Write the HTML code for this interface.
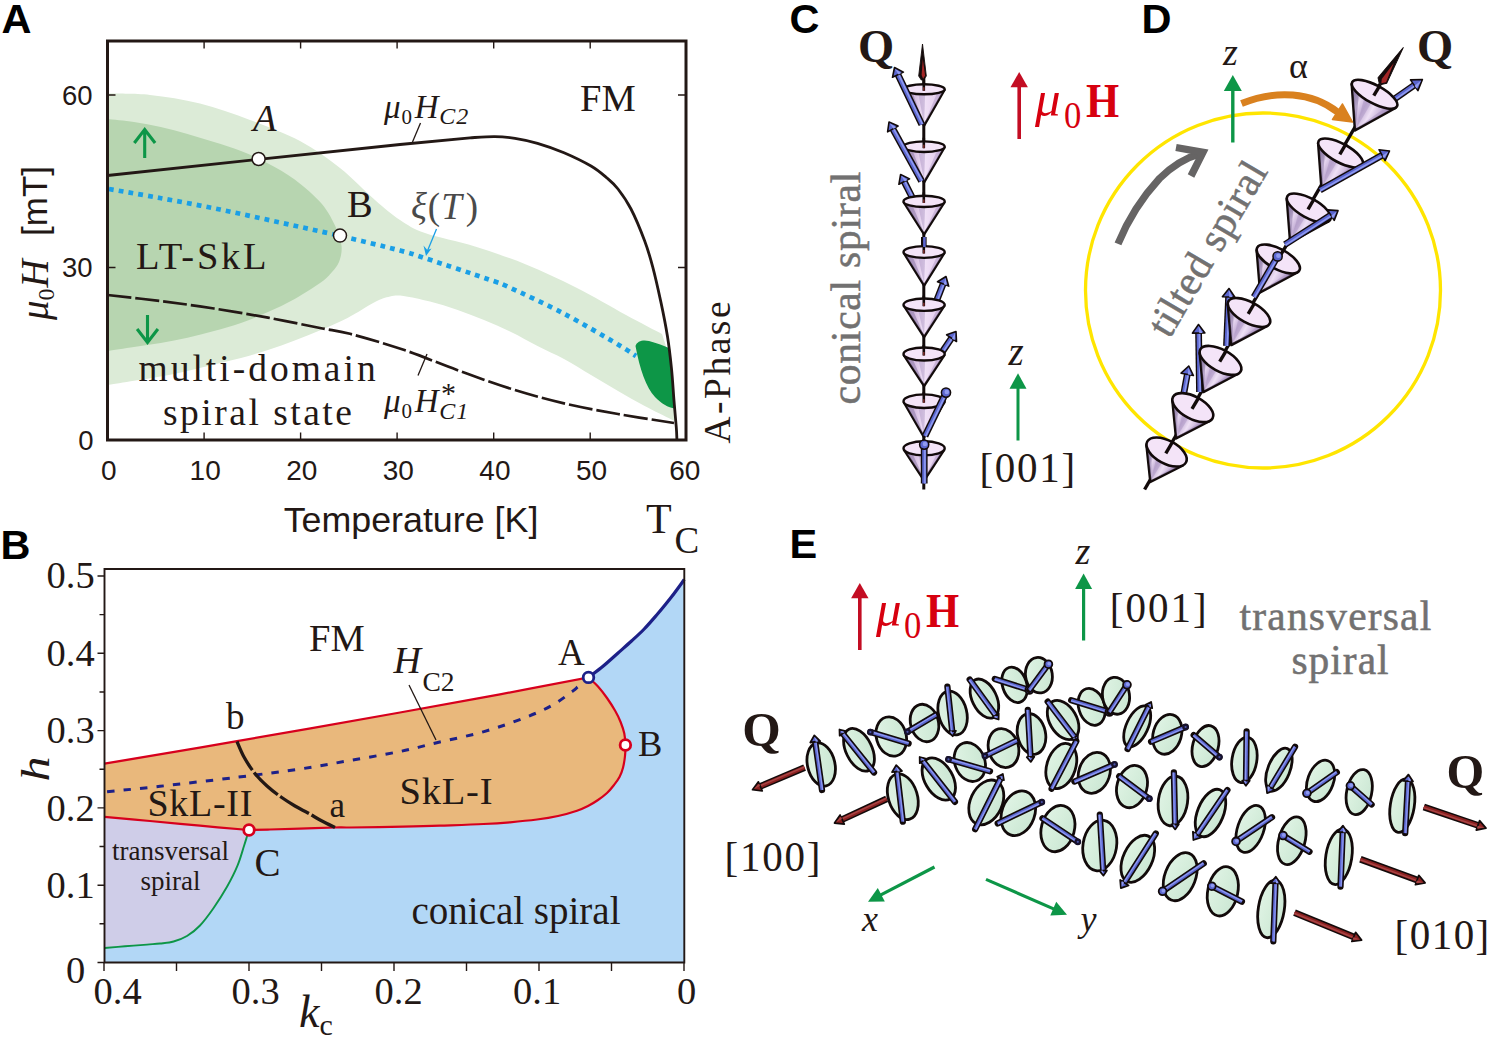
<!DOCTYPE html>
<html lang="en">
<head>
<meta charset="utf-8">
<title>Figure</title>
<style>
html,body{margin:0;padding:0;background:#fff;}
body{width:1498px;height:1045px;overflow:hidden;}
svg{display:block;}
.se{font-family:"Liberation Serif","DejaVu Serif",serif;}
.sa{font-family:"Liberation Sans","DejaVu Sans",sans-serif;}
.it{font-style:italic;}
.b{font-weight:bold;}
.k{fill:#231815;}
</style>
</head>
<body>
<svg width="1498" height="1045" viewBox="0 0 1498 1045">
<rect x="0" y="0" width="1498" height="1045" fill="#ffffff"/>
<!-- panelA -->
<path d="M107.5,93.6C114.6,93.8 134.6,93.3 150,95C165.4,96.7 183.3,99.4 200,103.6C216.7,107.8 233.3,113.8 250,120C266.7,126.2 285,133 300,141C315,149 327.5,158.2 340,168C352.5,177.8 365,191.3 375,200C385,208.7 391.7,214.5 400,220C408.3,225.5 412.5,228.6 425,233C437.5,237.4 458.2,241.2 475,246.5C491.8,251.8 509.2,257.7 526,264.5C542.8,271.3 559.3,279.1 576,287.5C592.7,295.9 611.7,307.2 626,315C640.3,322.8 656,330.8 662,334C662.9,337 665.9,345.2 667.5,352C669.1,358.8 670.4,367 671.5,375C672.6,383 673.3,392.2 674,400C674.7,407.8 675.2,418.3 675.5,422C674.8,421.6 676.6,422.2 671.5,419.5C666.4,416.8 653.6,410.8 644.7,406C635.8,401.2 627,396.2 618,391C609,385.8 600,380.3 591,375C582,369.7 572.9,363.8 564,359C555.1,354.2 546.3,350.5 537.5,346C528.7,341.5 519.9,336.3 511,332C502.1,327.7 493,323.7 484,320C475,316.3 466,312.8 457,309.7C448,306.6 438.9,303.9 430,301.6C421.1,299.3 410.3,296.9 403.6,296C396.9,295.1 394.8,295.5 390,296.5C385.2,297.5 382,298.5 375,302C368,305.5 356.9,313.1 348,317.7C339.1,322.3 330.4,325.9 321.5,329.7C312.6,333.5 303.6,337.1 294.7,340.5C285.8,343.9 276.9,347.1 268,350C259.1,352.9 250,355.6 241,358C232,360.4 222.9,362.4 214,364.6C205.1,366.8 196.4,369 187.5,371C178.6,373 169.6,375 160.7,376.6C151.8,378.2 142.9,379.3 134,380.7C125.1,382.1 111.9,384.3 107.5,385Z" fill="#dcebd7"/>
<path d="M107.5,119C111.9,119.5 125.1,120.7 134,122C142.9,123.3 151.8,125 160.7,127C169.6,129 178.6,131.5 187.5,134C196.4,136.5 205.1,139.2 214,142C222.9,144.8 232,147.4 241,151C250,154.6 259.1,158.7 268,163.4C276.9,168.2 285.8,172.8 294.7,179.5C303.6,186.2 314.6,195.6 321.5,203.6C328.4,211.6 332.6,220.5 336,227.7C339.4,234.8 341.1,240.8 341.6,246.5C342.1,252.2 340.6,257.8 339,262C337.4,266.2 334.9,268.7 332,272C329.1,275.3 327.7,277.5 321.5,282C315.3,286.5 303.6,294 294.7,299C285.8,304 276.9,308 268,312C259.1,316 250,319.8 241,323C232,326.2 222.9,328.5 214,331C205.1,333.5 196.4,335.8 187.5,337.8C178.6,339.8 169.6,341.5 160.7,343C151.8,344.5 142.9,345.7 134,347C125.1,348.3 111.9,350.3 107.5,351Z" fill="#b7d5b0"/>
<path d="M635.5,346 C637,341 643,339.5 649,341 C657,343 664,346 670,348.5 C672,368 673.5,388 675,408.5 C668,408 661,403 655,397 C646,387 640,370 635.5,346Z" fill="#0d9647"/>
<path d="M109,189C117.5,190.5 141.5,194.6 160,198C178.5,201.4 200,205.4 220,209.5C240,213.6 260.1,218.1 280,222.5C299.9,226.9 319.7,231.1 339.7,235.8C359.7,240.5 385.6,246.7 400,250.5C414.4,254.3 411.2,253.7 426,258.5C440.8,263.3 474.9,274.6 489,279.5C503.1,284.4 498.2,282.3 510.7,288C523.2,293.7 546.1,304.3 564,313.7C581.9,323.1 606,337.4 618,344.5C630,351.6 633,354.1 636,356" fill="none" stroke="#1a9fe6" stroke-width="4.7" stroke-dasharray="4.8 5.1"/>
<path d="M107.5,175.5 L258.5,159.4 L400,144.5 L470,137.8 C474.1,137.6 487.2,136.5 494.7,136.6C502.2,136.7 507.9,137.2 515,138.3C522.1,139.4 529.3,140.9 537.5,143.3C545.7,145.7 555.1,148.9 564,152.7C572.9,156.5 583.8,161.8 591,166C598.2,170.2 602.5,174.2 607,178C611.5,181.8 614,183.8 618,189C622,194.2 626.5,200.3 631,209C635.5,217.7 641.1,231.4 644.7,241C648.3,250.6 650,256.7 652.7,266.8C655.4,276.9 658.3,290 660.8,301.6C663.3,313.2 665.7,325.3 667.5,336.5C669.3,347.7 670.4,357.9 671.5,368.6C672.6,379.3 673.2,390.9 674,400.7C674.8,410.5 675.8,421 676.3,427.5C676.8,434 676.8,437.6 676.9,439.6" fill="none" stroke="#231815" stroke-width="2.8" stroke-linejoin="round"/>
<path d="M107.5,295C116.2,296 142.2,298.8 160,301C177.8,303.2 196,305.7 214,308.5C232,311.3 250.3,314.4 268,317.7C285.7,320.9 306.3,325.3 320,328C333.7,330.7 336.1,330.2 350,333.8C363.9,337.4 385.8,343.8 403.6,349.8C421.4,355.8 439.1,363.5 457,370C474.9,376.5 492.9,383.1 510.7,388.7C528.5,394.3 546.1,399.2 564,403.4C581.9,407.6 599.7,410.7 618,414C636.3,417.3 664.7,421.5 674,423" fill="none" stroke="#231815" stroke-width="2.7" stroke-dasharray="24 4"/>
<path d="M420.5,123 L412.5,142" stroke="#231815" stroke-width="1.3" fill="none"/>
<path d="M427,354 L418,375.5" stroke="#231815" stroke-width="1.3" fill="none"/>
<path d="M436.5,229 L427,252" stroke="#1a9fe6" stroke-width="1.3" fill="none"/>
<path d="M423.5,245.5 L426,256 L431.5,248.5 L427.3,250Z" fill="#1a9fe6"/>
<rect x="107.5" y="41" width="578.5" height="399" fill="none" stroke="#231815" stroke-width="3"/>
<path d="M204.1,41 v7.5 M204.1,440 v-7.5 M300.6,41 v7.5 M300.6,440 v-7.5 M397.1,41 v7.5 M397.1,440 v-7.5 M493.7,41 v7.5 M493.7,440 v-7.5 M590.2,41 v7.5 M590.2,440 v-7.5 M107.5,95 h8 M686,95 h-8 M107.5,267.5 h8 M686,267.5 h-8" stroke="#231815" stroke-width="1.4" fill="none"/>
<circle cx="258.6" cy="159" r="6.5" fill="#fff" stroke="#231815" stroke-width="1.5"/>
<circle cx="340" cy="235.6" r="6.5" fill="#fff" stroke="#231815" stroke-width="1.5"/>
<path d="M144.7,158 V131 M134.3,143 L144.7,129.5 L155.1,143" fill="none" stroke="#0d9647" stroke-width="3.1" stroke-linejoin="miter"/>
<path d="M147.5,315 V341 M137.1,329 L147.5,342.5 L157.9,329" fill="none" stroke="#0d9647" stroke-width="3.1" stroke-linejoin="miter"/>
<text x="1.5" y="32.8" class="sa b" font-size="41.5" fill="#000">A</text>
<text x="92.5" y="104.6" class="sa k" font-size="27.5" text-anchor="end">60</text>
<text x="92.5" y="277.3" class="sa k" font-size="27.5" text-anchor="end">30</text>
<text x="93.5" y="450" class="sa k" font-size="27.5" text-anchor="end">0</text>
<text x="108.7" y="480" class="sa k" font-size="28" text-anchor="middle">0</text>
<text x="205.2" y="480" class="sa k" font-size="28" text-anchor="middle">10</text>
<text x="301.8" y="480" class="sa k" font-size="28" text-anchor="middle">20</text>
<text x="398.3" y="480" class="sa k" font-size="28" text-anchor="middle">30</text>
<text x="494.9" y="480" class="sa k" font-size="28" text-anchor="middle">40</text>
<text x="591.5" y="480" class="sa k" font-size="28" text-anchor="middle">50</text>
<text x="684.8" y="480" class="sa k" font-size="28" text-anchor="middle">60</text>
<text x="411" y="531.7" class="sa k" font-size="35.8" text-anchor="middle">Temperature [K]</text>
<text x="646" y="533.3" class="se k" font-size="42">T</text>
<text x="674.5" y="553" class="se k" font-size="37">C</text>
<g transform="translate(47.5,320) rotate(-90)"><text x="0" y="0" class="k"><tspan class="se it" font-size="39">μ</tspan><tspan class="se" font-size="24" dy="6.5">0</tspan><tspan class="se it" font-size="39" dy="-6.5" dx="1">H</tspan></text><text x="84" y="-1" class="sa k" font-size="35">[mT]</text></g>
<g transform="translate(729.5,443.5) rotate(-90)"><text x="0" y="0" class="se k" font-size="37.5" letter-spacing="2.5">A-Phase</text></g>
<text x="580" y="110.5" class="se k" font-size="38.5">FM</text>
<text x="136" y="269.3" class="se k" font-size="38.5" letter-spacing="2.7">LT-SkL</text>
<text x="138.5" y="380.7" class="se k" font-size="37.5" letter-spacing="3.0">multi-domain</text>
<text x="163" y="425" class="se k" font-size="37.5" letter-spacing="2.5">spiral state</text>
<text x="253" y="131.3" class="se it k" font-size="38.5">A</text>
<text x="347" y="216.5" class="se k" font-size="38.5">B</text>
<text x="384" y="118" class="se it k" letter-spacing="0.8"><tspan font-size="33">μ</tspan><tspan font-size="21" dy="6" style="font-style:normal">0</tspan><tspan font-size="33" dy="-6" dx="2">H</tspan><tspan font-size="24" dy="6">C2</tspan></text>
<text x="384" y="412" class="se it k" letter-spacing="0.8"><tspan font-size="33">μ</tspan><tspan font-size="21" dy="6" style="font-style:normal">0</tspan><tspan font-size="33" dy="-6" dx="2">H</tspan><tspan font-size="24" dy="6.5">C1</tspan></text>
<text x="441" y="403" class="se k" font-size="30">*</text>
<text x="411" y="219" class="se it" font-size="37" fill="#4a4a4a" letter-spacing="1">ξ<tspan style="font-style:normal">(</tspan>T<tspan style="font-style:normal" dx="3">)</tspan></text>
<!-- panelB -->
<path d="M104.5,962.5 L104.5,800 L560,800 L560,700  L588.5,677.4 C590.9,675.5 598.2,670.3 603,666.3C607.8,662.3 612.8,657.7 617.5,653.5C622.2,649.3 627,645.1 631.5,641C636,636.9 639.9,633.5 644.2,629C648.5,624.5 653,619.2 657.5,614C662,608.8 666.5,603.2 671,597.5C675.5,591.8 682.1,582.5 684.3,579.5 L684.3,962.5Z" fill="#b2d7f6"/>
<path d="M104.5,816.8 C112.1,817.5 134.1,819.5 150,821C165.9,822.5 183.5,824.2 200,825.7C216.5,827.2 240.8,829.3 249,830C248.6,831.3 247.3,835.3 246.5,838C245.7,840.7 245.5,841.4 244,846C242.5,850.6 240.4,858.6 237.6,865.4C234.8,872.2 231,879.7 227,886.8C223,893.9 218.1,901.5 213.6,908C209.1,914.5 204.4,920.8 200,925.5C195.6,930.2 191.4,933.3 187,936C182.6,938.7 178.1,940.2 173.6,941.5C169.1,942.8 164.4,943 160,943.5C155.6,944 152.8,944.1 147,944.6C141.2,945.1 132.1,945.7 125,946.3C117.9,946.9 107.9,947.7 104.5,948Z" fill="#cfcde8"/>
<path d="M104.5,763.7C126.6,760 187.8,749.7 237,741.2C286.2,732.7 356.2,720.3 400,712.5C443.8,704.7 468.6,700.1 500,694.3C531.4,688.4 573.8,680.2 588.5,677.4C590.1,678.9 594.9,683.1 598,686.5C601.1,689.9 604.2,694 607,698C609.8,702 612.7,706.5 615,710.5C617.3,714.5 619.1,718.2 620.6,722C622.1,725.8 623.5,729.7 624.3,733.5C625.1,737.3 625.3,741.2 625.4,745C625.5,748.8 625.4,752.2 625,756C624.6,759.8 623.9,764.2 623,767.7C622.1,771.2 621,774.1 619.5,777C618,779.9 616.1,782.3 614,785C611.9,787.7 609.7,790.5 607,793C604.3,795.5 601.2,797.8 598,800C594.8,802.2 591.5,804.2 588,806C584.5,807.8 582,809 577,810.7C572,812.4 564.7,814.5 558,816C551.3,817.5 545,818.5 537,819.5C529,820.5 518.9,821.5 510,822.3C501.1,823 495.2,823.4 483.5,824C471.8,824.6 453.4,825.2 440,825.7C426.6,826.2 418,826.4 403,826.7C388,827 361.3,827.4 350,827.5C338.7,827.6 343.3,827.3 335,827.5C326.7,827.7 310.8,828.3 300,828.6C289.2,828.9 278.5,829.3 270,829.5C261.5,829.7 252.5,829.9 249,830C240.8,829.3 216.5,827.2 200,825.7C183.5,824.2 165.9,822.5 150,821C134.1,819.5 112.1,817.5 104.5,816.8Z" fill="#e9b87c"/>
<path d="M249,830C248.6,831.3 247.3,835.3 246.5,838C245.7,840.7 245.5,841.4 244,846C242.5,850.6 240.4,858.6 237.6,865.4C234.8,872.2 231,879.7 227,886.8C223,893.9 218.1,901.5 213.6,908C209.1,914.5 204.4,920.8 200,925.5C195.6,930.2 191.4,933.3 187,936C182.6,938.7 178.1,940.2 173.6,941.5C169.1,942.8 164.4,943 160,943.5C155.6,944 152.8,944.1 147,944.6C141.2,945.1 132.1,945.7 125,946.3C117.9,946.9 107.9,947.7 104.5,948" fill="none" stroke="#0d9647" stroke-width="1.9"/>
<path d="M104.5,763.7C126.6,760 187.8,749.7 237,741.2C286.2,732.7 356.2,720.3 400,712.5C443.8,704.7 468.6,700.1 500,694.3C531.4,688.4 573.8,680.2 588.5,677.4C590.1,678.9 594.9,683.1 598,686.5C601.1,689.9 604.2,694 607,698C609.8,702 612.7,706.5 615,710.5C617.3,714.5 619.1,718.2 620.6,722C622.1,725.8 623.5,729.7 624.3,733.5C625.1,737.3 625.3,741.2 625.4,745C625.5,748.8 625.4,752.2 625,756C624.6,759.8 623.9,764.2 623,767.7C622.1,771.2 621,774.1 619.5,777C618,779.9 616.1,782.3 614,785C611.9,787.7 609.7,790.5 607,793C604.3,795.5 601.2,797.8 598,800C594.8,802.2 591.5,804.2 588,806C584.5,807.8 582,809 577,810.7C572,812.4 564.7,814.5 558,816C551.3,817.5 545,818.5 537,819.5C529,820.5 518.9,821.5 510,822.3C501.1,823 495.2,823.4 483.5,824C471.8,824.6 453.4,825.2 440,825.7C426.6,826.2 418,826.4 403,826.7C388,827 361.3,827.4 350,827.5C338.7,827.6 343.3,827.3 335,827.5C326.7,827.7 310.8,828.3 300,828.6C289.2,828.9 278.5,829.3 270,829.5C261.5,829.7 252.5,829.9 249,830C240.8,829.3 216.5,827.2 200,825.7C183.5,824.2 165.9,822.5 150,821C134.1,819.5 112.1,817.5 104.5,816.8" fill="none" stroke="#d7001d" stroke-width="2.2"/>
<path d="M588.5,677.4C590.9,675.5 598.2,670.3 603,666.3C607.8,662.3 612.8,657.7 617.5,653.5C622.2,649.3 627,645.1 631.5,641C636,636.9 639.9,633.5 644.2,629C648.5,624.5 653,619.2 657.5,614C662,608.8 666.5,603.2 671,597.5C675.5,591.8 682.1,582.5 684.3,579.5" fill="none" stroke="#1d2088" stroke-width="3.2"/>
<path d="M577.5,687C576.6,687.7 576.8,688.2 572.4,691.4C568,694.6 559.1,701.6 551,706C542.9,710.4 535.2,713.7 524,718C512.8,722.3 498.7,727.4 484,731.6C469.3,735.8 449.7,739.7 435.7,743C421.7,746.3 414.3,748.6 400,751.5C385.7,754.4 366.7,757.6 350,760.5C333.3,763.4 318.8,766.2 300,769C281.2,771.8 260.3,774.4 237,777.3C213.7,780.2 182.1,783.8 160,786.3C137.9,788.8 113.8,791 104.5,792" fill="none" stroke="#1d2088" stroke-width="3" stroke-dasharray="7.4 9.12"/>
<path d="M237,741.5C238.2,744.1 241.1,751.8 244,757C246.9,762.2 250.7,768.2 254.5,773C258.3,777.8 262.6,782 267,786C271.4,790 276.3,793.7 281,797C285.7,800.3 290.5,803.3 295,806C299.5,808.7 303.5,810.5 308,813C312.5,815.5 317.5,818.6 322,821C326.5,823.4 332.8,826.4 335,827.5" fill="none" stroke="#231815" stroke-width="3.3" stroke-dasharray="32.5 3 32.5 3 33.5 3 40"/>
<path d="M409,685 L436,740" stroke="#231815" stroke-width="1.3" fill="none"/>
<path d="M104.5,569 H684.3 V962.5 H104.5Z" fill="none" stroke="#231815" stroke-width="1.9"/>
<path d="M104.5,576 h-7 M104.5,614.6 h-5 M104.5,653.3 h-7 M104.5,692 h-5 M104.5,730.6 h-7 M104.5,769.2 h-5 M104.5,807.9 h-7 M104.5,846.5 h-5 M104.5,885.2 h-7 M104.5,923.8 h-5 M104.5,962.5 h-7 M104,962.5 v8.5 M176.5,962.5 v8.5 M249,962.5 v8.5 M321.5,962.5 v8.5 M394,962.5 v8.5 M466.5,962.5 v8.5 M539,962.5 v8.5 M611.5,962.5 v8.5 M684,962.5 v8.5" stroke="#231815" stroke-width="1.4" fill="none"/>
<circle cx="588.5" cy="677.4" r="5.3" fill="#fff" stroke="#1d2088" stroke-width="2.8"/>
<circle cx="625.4" cy="745" r="5.3" fill="#fff" stroke="#d7001d" stroke-width="2.8"/>
<circle cx="249" cy="830" r="5.3" fill="#fff" stroke="#d7001d" stroke-width="2.8"/>
<text x="0.5" y="559" class="sa b" font-size="41.5" fill="#000">B</text>
<text x="46.5" y="588" class="se k" font-size="38.5">0.5</text>
<text x="46.5" y="665.5" class="se k" font-size="38.5">0.4</text>
<text x="46.5" y="743" class="se k" font-size="38.5">0.3</text>
<text x="46.5" y="820.5" class="se k" font-size="38.5">0.2</text>
<text x="46.5" y="898" class="se k" font-size="38.5">0.1</text>
<text x="66" y="983" class="se k" font-size="38.5">0</text>
<text x="93.5" y="1003.5" class="se k" font-size="38.5">0.4</text>
<text x="231.5" y="1003.5" class="se k" font-size="38.5">0.3</text>
<text x="374.5" y="1003.5" class="se k" font-size="38.5">0.2</text>
<text x="513" y="1003.5" class="se k" font-size="38.5">0.1</text>
<text x="677" y="1003.5" class="se k" font-size="38.5">0</text>
<g transform="translate(49,781.5) rotate(-90) scale(1.25,1)"><text x="0" y="0" class="se it k" font-size="40">h</text></g>
<text x="299" y="1027" class="se it k" font-size="46">k<tspan style="font-style:normal" font-size="30" dy="8">c</tspan></text>
<text x="309" y="651" class="se k" font-size="38.5">FM</text>
<text x="393.5" y="672.8" class="se it k" font-size="38">H</text>
<text x="422.5" y="690.5" class="se k" font-size="27.5">C2</text>
<text x="558" y="664.6" class="se k" font-size="37">A</text>
<text x="638" y="756" class="se k" font-size="36.5">B</text>
<text x="226" y="729" class="se k" font-size="37">b</text>
<text x="329.5" y="817" class="se k" font-size="35">a</text>
<text x="147.5" y="816" class="se k" font-size="38" letter-spacing="0.7">SkL-II</text>
<text x="399.5" y="804" class="se k" font-size="38.5" letter-spacing="0.8">SkL-I</text>
<text x="254.5" y="876" class="se k" font-size="39">C</text>
<text x="170.5" y="860" class="se k" font-size="27" text-anchor="middle">transversal</text>
<text x="170.5" y="889.5" class="se k" font-size="27" text-anchor="middle">spiral</text>
<text x="411.5" y="924" class="se k" font-size="39">conical spiral</text>
<!-- panelC -->
<defs>
<linearGradient id="cg" x1="0" y1="0" x2="1" y2="0"><stop offset="0" stop-color="#b79fcc"/><stop offset="0.25" stop-color="#d3badf"/><stop offset="0.5" stop-color="#f1e2f7"/><stop offset="0.8" stop-color="#e6d0ef"/><stop offset="1" stop-color="#cdb3dd"/></linearGradient>
<linearGradient id="dg" x1="0" y1="0" x2="1" y2="0"><stop offset="0" stop-color="#7f7094"/><stop offset="0.16" stop-color="#a291b8"/><stop offset="0.3" stop-color="#e6d6f0"/><stop offset="0.44" stop-color="#c4afd6"/><stop offset="0.6" stop-color="#eee0f5"/><stop offset="0.8" stop-color="#c3add5"/><stop offset="1" stop-color="#8f7ea6"/></linearGradient>
<linearGradient id="ng" x1="0" y1="0" x2="0" y2="1"><stop offset="0" stop-color="#120a0a"/><stop offset="0.55" stop-color="#1a0b0b"/><stop offset="1" stop-color="#a02424"/></linearGradient>
</defs>
<text x="789.5" y="32.5" class="sa b" font-size="41.5" fill="#000">C</text>
<text x="858" y="61.5" class="se b k" font-size="46.5">Q</text>
<g transform="translate(860,404.5) rotate(-90)"><text x="0" y="0" class="se" font-size="41.5" fill="#727171" stroke="#727171" stroke-width="0.5" letter-spacing="0.8">conical spiral</text></g>
<path d="M1019.2,139 L1019.2,86.3" stroke="#c30d23" stroke-width="3.6" fill="none"/><path d="M1027.9,87.3 L1019.2,72 L1010.5,87.3Z" fill="#c30d23"/>
<text x="1035" y="116" class="se it" font-size="51" fill="#d7000f">μ</text><text x="1064" y="128.3" class="se" font-size="38.5" fill="#d7000f" transform="translate(1064,0) scale(0.9,1) translate(-1064,0)">0</text>
<text x="0" y="0" class="se b" font-size="49" fill="#d7000f" transform="translate(1086,116.5) scale(0.87,1)">H</text>
<path d="M1018,440.5 L1018,387.8" stroke="#0d9647" stroke-width="3" fill="none"/><path d="M1026.5,388.8 L1018,373.3 L1009.5,388.8Z" fill="#0d9647"/>
<text x="1008.5" y="364.5" class="se it k" font-size="39">z</text>
<text x="0" y="0" class="se k" font-size="41" letter-spacing="1.7" transform="translate(979.5,481.8) scale(1,1.025)">[001]</text>
<path d="M923.8,78 V489.5" stroke="#120a0a" stroke-width="3" fill="none"/>
<path d="M922.5,44 L926.3,76 L923.7,80 L921.3,80 L918.7,76Z" fill="#140b0b" stroke="#140b0b" stroke-width="0.9" stroke-linejoin="round"/><path d="M922.8,59.1 L925.1,75.4 L923.1,78.8 L921.6,75Z" fill="#a32626"/>
<path d="M912.5,198 L904.2,181.6" stroke="#120a0a" stroke-width="6.8" stroke-linecap="butt" fill="none"/><path d="M912.5,198 L904.2,181.6" stroke="#5b66cf" stroke-width="4" stroke-linecap="butt" fill="none"/><path d="M913.1,197.7 L904.9,181.3" stroke="#8f9af0" stroke-width="1.6" fill="none"/><path d="M909.6,178.9 L900.6,174.5 L898.9,184.3Z" fill="#5b66cf" stroke="#120a0a" stroke-width="1.6" stroke-linejoin="round"/><path d="M904.7,181.4 L901.3,175.8 L907.6,179.9Z" fill="#8f9af0"/>
<path d="M936.5,301 L943.1,284" stroke="#120a0a" stroke-width="6.8" stroke-linecap="butt" fill="none"/><path d="M936.5,301 L943.1,284" stroke="#5b66cf" stroke-width="4" stroke-linecap="butt" fill="none"/><path d="M937.2,301.3 L943.8,284.2" stroke="#8f9af0" stroke-width="1.6" fill="none"/><path d="M948.7,286.1 L946,276.5 L937.5,281.8Z" fill="#5b66cf" stroke="#120a0a" stroke-width="1.6" stroke-linejoin="round"/><path d="M943.7,284.2 L945.5,277.9 L946.7,285.3Z" fill="#8f9af0"/>
<path d="M941.5,353 L951.5,338.1" stroke="#120a0a" stroke-width="6.8" stroke-linecap="butt" fill="none"/><path d="M941.5,353 L951.5,338.1" stroke="#5b66cf" stroke-width="4" stroke-linecap="butt" fill="none"/><path d="M942.1,353.4 L952.1,338.5" stroke="#8f9af0" stroke-width="1.6" fill="none"/><path d="M956.5,341.5 L956,331.5 L946.6,334.8Z" fill="#5b66cf" stroke="#120a0a" stroke-width="1.6" stroke-linejoin="round"/><path d="M952,338.5 L955.2,332.7 L954.7,340.3Z" fill="#8f9af0"/>
<g transform="translate(924.1,89.3)"><path d="M-20.4,0.7 L0,36.4 L20.4,0.7Z" fill="url(#cg)" stroke="#120a0a" stroke-width="2.4" stroke-linejoin="round"/><path d="M-19,1.7 L0,34.9 L-11.2,4.5Z" fill="#8d7aa6" opacity="0.55"/><path d="M-5.7,5 L0,34.9 L1,5Z" fill="#a691bf" opacity="0.45"/><path d="M12.7,4.2 L0,34.9 L19.4,1.2Z" fill="#9f8ab8" opacity="0.4"/><ellipse cx="0" cy="0" rx="20.6" ry="5" fill="#f4e4f8" stroke="#120a0a" stroke-width="2.4"/></g>
<path d="M923.8,80.3 V90.8" stroke="#120a0a" stroke-width="2.6" fill="none"/>
<path d="M923.8,87.3 V90.8" stroke="#7a2a2a" stroke-width="1.6" fill="none"/>
<g transform="translate(924.1,146.7)"><path d="M-20.4,0.8 L0,35.6 L20.4,0.8Z" fill="url(#cg)" stroke="#120a0a" stroke-width="2.4" stroke-linejoin="round"/><path d="M-18.9,1.8 L0,34.1 L-11.2,4.8Z" fill="#8d7aa6" opacity="0.55"/><path d="M-5.7,5.3 L0,34.1 L1,5.3Z" fill="#a691bf" opacity="0.45"/><path d="M12.6,4.5 L0,34.1 L19.4,1.3Z" fill="#9f8ab8" opacity="0.4"/><ellipse cx="0" cy="0" rx="20.6" ry="5.3" fill="#f4e4f8" stroke="#120a0a" stroke-width="2.4"/></g>
<path d="M923.8,137.7 V148.2" stroke="#120a0a" stroke-width="2.6" fill="none"/>
<path d="M923.8,144.7 V148.2" stroke="#7a2a2a" stroke-width="1.6" fill="none"/>
<g transform="translate(924.1,201.4)"><path d="M-20.3,1 L0,32.9 L20.3,1Z" fill="url(#cg)" stroke="#120a0a" stroke-width="2.4" stroke-linejoin="round"/><path d="M-18.9,2 L0,31.4 L-11.2,5Z" fill="#8d7aa6" opacity="0.55"/><path d="M-5.7,5.6 L0,31.4 L1,5.6Z" fill="#a691bf" opacity="0.45"/><path d="M12.6,4.8 L0,31.4 L19.3,1.5Z" fill="#9f8ab8" opacity="0.4"/><ellipse cx="0" cy="0" rx="20.6" ry="5.6" fill="#f4e4f8" stroke="#120a0a" stroke-width="2.4"/></g>
<path d="M923.8,192.4 V202.9" stroke="#120a0a" stroke-width="2.6" fill="none"/>
<path d="M923.8,199.4 V202.9" stroke="#7a2a2a" stroke-width="1.6" fill="none"/>
<g transform="translate(924.1,252)"><path d="M-20.3,1 L0,33.6 L20.3,1Z" fill="url(#cg)" stroke="#120a0a" stroke-width="2.4" stroke-linejoin="round"/><path d="M-18.9,2 L0,32.1 L-11.2,5.3Z" fill="#8d7aa6" opacity="0.55"/><path d="M-5.7,5.9 L0,32.1 L1,5.9Z" fill="#a691bf" opacity="0.45"/><path d="M12.6,5 L0,32.1 L19.3,1.5Z" fill="#9f8ab8" opacity="0.4"/><ellipse cx="0" cy="0" rx="20.6" ry="5.9" fill="#f4e4f8" stroke="#120a0a" stroke-width="2.4"/></g>
<path d="M923.8,243 V253.5" stroke="#120a0a" stroke-width="2.6" fill="none"/>
<path d="M923.8,250 V253.5" stroke="#7a2a2a" stroke-width="1.6" fill="none"/>
<g transform="translate(924.1,304.7)"><path d="M-20.2,1.2 L0,32.3 L20.2,1.2Z" fill="url(#cg)" stroke="#120a0a" stroke-width="2.4" stroke-linejoin="round"/><path d="M-18.8,2.2 L0,30.8 L-11.1,5.6Z" fill="#8d7aa6" opacity="0.55"/><path d="M-5.7,6.2 L0,30.8 L1,6.2Z" fill="#a691bf" opacity="0.45"/><path d="M12.5,5.3 L0,30.8 L19.2,1.7Z" fill="#9f8ab8" opacity="0.4"/><ellipse cx="0" cy="0" rx="20.6" ry="6.2" fill="#f4e4f8" stroke="#120a0a" stroke-width="2.4"/></g>
<path d="M923.8,295.7 V306.2" stroke="#120a0a" stroke-width="2.6" fill="none"/>
<path d="M923.8,302.7 V306.2" stroke="#7a2a2a" stroke-width="1.6" fill="none"/>
<g transform="translate(924.1,354)"><path d="M-20.2,1.3 L0,32 L20.2,1.3Z" fill="url(#cg)" stroke="#120a0a" stroke-width="2.4" stroke-linejoin="round"/><path d="M-18.8,2.3 L0,30.5 L-11.1,5.9Z" fill="#8d7aa6" opacity="0.55"/><path d="M-5.6,6.5 L0,30.5 L1,6.5Z" fill="#a691bf" opacity="0.45"/><path d="M12.5,5.5 L0,30.5 L19.2,1.8Z" fill="#9f8ab8" opacity="0.4"/><ellipse cx="0" cy="0" rx="20.6" ry="6.5" fill="#f4e4f8" stroke="#120a0a" stroke-width="2.4"/></g>
<path d="M923.8,345 V355.5" stroke="#120a0a" stroke-width="2.6" fill="none"/>
<path d="M923.8,352 V355.5" stroke="#7a2a2a" stroke-width="1.6" fill="none"/>
<g transform="translate(924.1,401.2)"><path d="M-20.2,1.3 L0,36.1 L20.2,1.3Z" fill="url(#cg)" stroke="#120a0a" stroke-width="2.4" stroke-linejoin="round"/><path d="M-18.8,2.3 L0,34.6 L-11.1,6.1Z" fill="#8d7aa6" opacity="0.55"/><path d="M-5.7,6.8 L0,34.6 L1,6.8Z" fill="#a691bf" opacity="0.45"/><path d="M12.5,5.8 L0,34.6 L19.2,1.8Z" fill="#9f8ab8" opacity="0.4"/><ellipse cx="0" cy="0" rx="20.6" ry="6.8" fill="#f4e4f8" stroke="#120a0a" stroke-width="2.4"/></g>
<path d="M923.8,392.2 V402.7" stroke="#120a0a" stroke-width="2.6" fill="none"/>
<path d="M923.8,399.2 V402.7" stroke="#7a2a2a" stroke-width="1.6" fill="none"/>
<g transform="translate(924.1,448.3)"><path d="M-20.1,1.6 L0,32.2 L20.1,1.6Z" fill="url(#cg)" stroke="#120a0a" stroke-width="2.4" stroke-linejoin="round"/><path d="M-18.7,2.6 L0,30.7 L-11.1,6.4Z" fill="#8d7aa6" opacity="0.55"/><path d="M-5.6,7.1 L0,30.7 L1,7.1Z" fill="#a691bf" opacity="0.45"/><path d="M12.5,6 L0,30.7 L19.1,2.1Z" fill="#9f8ab8" opacity="0.4"/><ellipse cx="0" cy="0" rx="20.6" ry="7.1" fill="#f4e4f8" stroke="#120a0a" stroke-width="2.4"/></g>
<path d="M923.8,439.3 V449.8" stroke="#120a0a" stroke-width="2.6" fill="none"/>
<path d="M923.8,446.3 V449.8" stroke="#7a2a2a" stroke-width="1.6" fill="none"/>
<path d="M923.8,237 V247" stroke="#120a0a" stroke-width="5.6" fill="none"/><path d="M924.4,237 V247" stroke="#5b66cf" stroke-width="2.6" fill="none"/>
<path d="M921.8,124.5 L898,74.7" stroke="#120a0a" stroke-width="6.8" stroke-linecap="butt" fill="none"/><path d="M921.8,124.5 L898,74.7" stroke="#5b66cf" stroke-width="4" stroke-linecap="butt" fill="none"/><path d="M922.4,124.2 L898.6,74.4" stroke="#8f9af0" stroke-width="1.6" fill="none"/><path d="M903.4,72.1 L894.5,67.5 L892.5,77.3Z" fill="#5b66cf" stroke="#120a0a" stroke-width="1.6" stroke-linejoin="round"/><path d="M898.5,74.5 L895.1,68.9 L901.4,73.1Z" fill="#8f9af0"/>
<path d="M921.5,181 L892.9,129" stroke="#120a0a" stroke-width="6.8" stroke-linecap="butt" fill="none"/><path d="M921.5,181 L892.9,129" stroke="#5b66cf" stroke-width="4" stroke-linecap="butt" fill="none"/><path d="M922.1,180.7 L893.5,128.7" stroke="#8f9af0" stroke-width="1.6" fill="none"/><path d="M898.1,126.1 L889,122 L887.6,131.9Z" fill="#5b66cf" stroke="#120a0a" stroke-width="1.6" stroke-linejoin="round"/><path d="M893.4,128.7 L889.7,123.3 L896.2,127.2Z" fill="#8f9af0"/>
<path d="M925,436 L946,392.6" stroke="#120a0a" stroke-width="6.8" stroke-linecap="butt" fill="none"/><path d="M925,436 L946,392.6" stroke="#5b66cf" stroke-width="4" stroke-linecap="butt" fill="none"/><path d="M925.6,436.3 L946.6,392.9" stroke="#8f9af0" stroke-width="1.6" fill="none"/><circle cx="946" cy="392.6" r="4.6" fill="#5b66cf" stroke="#120a0a" stroke-width="1.5"/><circle cx="946.8" cy="392" r="2.3" fill="#8f9af0"/>
<path d="M924.2,483.5 L924.2,444.6" stroke="#120a0a" stroke-width="6.8" stroke-linecap="butt" fill="none"/><path d="M924.2,483.5 L924.2,444.6" stroke="#5b66cf" stroke-width="4" stroke-linecap="butt" fill="none"/><path d="M924.9,483.5 L924.9,444.6" stroke="#8f9af0" stroke-width="1.6" fill="none"/><circle cx="924.2" cy="444.6" r="4.6" fill="#5b66cf" stroke="#120a0a" stroke-width="1.5"/><circle cx="925" cy="444" r="2.3" fill="#8f9af0"/>
<!-- panelD -->
<text x="1141.5" y="32.5" class="sa b" font-size="41.5" fill="#000">D</text>
<circle cx="1263" cy="290.5" r="177.5" fill="none" stroke="#ffe500" stroke-width="3.3"/>
<path d="M1118,243.8 C1127,222 1141.5,198 1159.5,178.5 C1171.5,166.5 1186,157.5 1201.5,153.2" fill="none" stroke="#666464" stroke-width="7.3"/>
<path d="M1176,147.5 L1203,152.3 L1191,176" fill="none" stroke="#666464" stroke-width="7.3" stroke-linejoin="miter" stroke-miterlimit="10"/>
<g transform="translate(1169.5,339.5) rotate(-59.5)"><text x="0" y="0" class="se" font-size="41.5" fill="#727171" stroke="#727171" stroke-width="0.5" letter-spacing="0.6">tilted spiral</text></g>
<path d="M1232.8,142.5 L1232.8,90" stroke="#0d9647" stroke-width="3.4" fill="none"/><path d="M1241.8,91 L1232.8,75 L1223.8,91Z" fill="#0d9647"/>
<text x="1223" y="64.5" class="se it k" font-size="38">z</text>
<text x="1289" y="77.5" class="se k" font-size="36">α</text>
<path d="M1241.5,103.5 C1276,89.5 1312,92 1337.5,112" fill="none" stroke="#d9811f" stroke-width="7"/>
<path d="M1342.5,104 L1352.5,122 L1332.5,119.5Z" fill="#d9811f" stroke="#d9811f" stroke-width="1.5" stroke-linejoin="round"/>
<text x="1417" y="61.5" class="se b k" font-size="46.5">Q</text>
<path d="M1380,84 L1144.6,489.5" stroke="#120a0a" stroke-width="3.4" fill="none"/>
<g transform="translate(1403.3,47.6) rotate(32.5)"><path d="M0,0 L5.2,39 L1.2,43 L-1.2,43 L-5.2,39Z" fill="#140b0b" stroke="#140b0b" stroke-width="0.9" stroke-linejoin="round"/><path d="M0.3,18.1 L4,38.4 L0.6,41.8 L-1.3,38Z" fill="#a32626"/></g>
<path d="M1388,103.5 L1414.2,85.2" stroke="#120a0a" stroke-width="6.8" stroke-linecap="butt" fill="none"/><path d="M1388,103.5 L1414.2,85.2" stroke="#5b66cf" stroke-width="4" stroke-linecap="butt" fill="none"/><path d="M1388.4,104.1 L1414.6,85.8" stroke="#8f9af0" stroke-width="1.6" fill="none"/><path d="M1417.9,90.6 L1422.4,79.5 L1410.5,79.9Z" fill="#5b66cf" stroke="#120a0a" stroke-width="1.6" stroke-linejoin="round"/><path d="M1414.6,85.8 L1421.2,80.4 L1416.6,88.6Z" fill="#8f9af0"/>
<path d="M1226.5,346 L1228.6,297" stroke="#120a0a" stroke-width="6.8" stroke-linecap="butt" fill="none"/><path d="M1226.5,346 L1228.6,297" stroke="#5b66cf" stroke-width="4" stroke-linecap="butt" fill="none"/><path d="M1227.2,346 L1229.4,297" stroke="#8f9af0" stroke-width="1.6" fill="none"/><path d="M1234.9,297.3 L1229,288.5 L1222.4,296.7Z" fill="#5b66cf" stroke="#120a0a" stroke-width="1.6" stroke-linejoin="round"/><path d="M1229.3,297 L1228.9,290 L1232.6,297.2Z" fill="#8f9af0"/>
<path d="M1199.5,392 L1198.6,333" stroke="#120a0a" stroke-width="6.8" stroke-linecap="butt" fill="none"/><path d="M1199.5,392 L1198.6,333" stroke="#5b66cf" stroke-width="4" stroke-linecap="butt" fill="none"/><path d="M1200.2,392 L1199.3,333" stroke="#8f9af0" stroke-width="1.6" fill="none"/><path d="M1204.9,332.9 L1198.5,324.5 L1192.4,333.1Z" fill="#5b66cf" stroke="#120a0a" stroke-width="1.6" stroke-linejoin="round"/><path d="M1199.3,333 L1198.5,326 L1202.6,332.9Z" fill="#8f9af0"/>
<path d="M1183.5,395 L1187.3,374.4" stroke="#120a0a" stroke-width="6.8" stroke-linecap="butt" fill="none"/><path d="M1183.5,395 L1187.3,374.4" stroke="#5b66cf" stroke-width="4" stroke-linecap="butt" fill="none"/><path d="M1184.2,395.1 L1188,374.5" stroke="#8f9af0" stroke-width="1.6" fill="none"/><path d="M1193.4,375.5 L1188.8,366 L1181.1,373.2Z" fill="#5b66cf" stroke="#120a0a" stroke-width="1.6" stroke-linejoin="round"/><path d="M1187.9,374.5 L1188.5,367.5 L1191.2,375.1Z" fill="#8f9af0"/>
<g transform="translate(1374.6,94.3) rotate(28.5)"><path d="M-24.9,2 L0,41 L24.9,2Z" fill="url(#dg)" stroke="#120a0a" stroke-width="2.6" stroke-linejoin="round"/><path d="M-23.1,3 L0,39.5 L-13.7,8.1Z" fill="#8d7aa6" opacity="0.55"/><path d="M-7,9 L0,39.5 L1.2,9Z" fill="#a691bf" opacity="0.45"/><path d="M15.4,7.6 L0,39.5 L23.6,2.5Z" fill="#9f8ab8" opacity="0.4"/><ellipse cx="0" cy="0" rx="25.5" ry="9" fill="#f4e4f8" stroke="#120a0a" stroke-width="2.6"/></g>
<path d="M1380.2,84.8 L1373.8,95.6" stroke="#120a0a" stroke-width="3.4" fill="none"/>
<g transform="translate(1340.6,153) rotate(28.5)"><path d="M-24.3,2.2 L0,40 L24.3,2.2Z" fill="url(#dg)" stroke="#120a0a" stroke-width="2.6" stroke-linejoin="round"/><path d="M-22.6,3.2 L0,38.5 L-13.4,8.4Z" fill="#8d7aa6" opacity="0.55"/><path d="M-6.8,9.4 L0,38.5 L1.2,9.4Z" fill="#a691bf" opacity="0.45"/><path d="M15.1,8 L0,38.5 L23.1,2.7Z" fill="#9f8ab8" opacity="0.4"/><ellipse cx="0" cy="0" rx="25" ry="9.4" fill="#f4e4f8" stroke="#120a0a" stroke-width="2.6"/></g>
<path d="M1346.2,143.5 L1339.8,154.3" stroke="#120a0a" stroke-width="3.4" fill="none"/>
<g transform="translate(1308.8,208) rotate(28.5)"><path d="M-23.7,2.4 L0,39 L23.7,2.4Z" fill="url(#dg)" stroke="#120a0a" stroke-width="2.6" stroke-linejoin="round"/><path d="M-22.1,3.4 L0,37.5 L-13.1,8.7Z" fill="#8d7aa6" opacity="0.55"/><path d="M-6.6,9.7 L0,37.5 L1.2,9.7Z" fill="#a691bf" opacity="0.45"/><path d="M14.7,8.3 L0,37.5 L22.5,2.9Z" fill="#9f8ab8" opacity="0.4"/><ellipse cx="0" cy="0" rx="24.5" ry="9.7" fill="#f4e4f8" stroke="#120a0a" stroke-width="2.6"/></g>
<path d="M1314.4,198.5 L1308,209.3" stroke="#120a0a" stroke-width="3.4" fill="none"/>
<g transform="translate(1278.3,259) rotate(28.5)"><path d="M-23.1,2.7 L0,38 L23.1,2.7Z" fill="url(#dg)" stroke="#120a0a" stroke-width="2.6" stroke-linejoin="round"/><path d="M-21.5,3.7 L0,36.5 L-12.7,9.1Z" fill="#8d7aa6" opacity="0.55"/><path d="M-6.5,10.1 L0,36.5 L1.2,10.1Z" fill="#a691bf" opacity="0.45"/><path d="M14.3,8.6 L0,36.5 L22,3.2Z" fill="#9f8ab8" opacity="0.4"/><ellipse cx="0" cy="0" rx="24" ry="10.1" fill="#f4e4f8" stroke="#120a0a" stroke-width="2.6"/></g>
<path d="M1283.9,249.5 L1277.5,260.3" stroke="#120a0a" stroke-width="3.4" fill="none"/>
<g transform="translate(1249,312.5) rotate(28.5)"><path d="M-22.5,2.9 L0,37 L22.5,2.9Z" fill="url(#dg)" stroke="#120a0a" stroke-width="2.6" stroke-linejoin="round"/><path d="M-21,3.9 L0,35.5 L-12.4,9.4Z" fill="#8d7aa6" opacity="0.55"/><path d="M-6.3,10.4 L0,35.5 L1.1,10.4Z" fill="#a691bf" opacity="0.45"/><path d="M14,8.9 L0,35.5 L21.4,3.4Z" fill="#9f8ab8" opacity="0.4"/><ellipse cx="0" cy="0" rx="23.5" ry="10.4" fill="#f4e4f8" stroke="#120a0a" stroke-width="2.6"/></g>
<path d="M1254.6,303 L1248.2,313.8" stroke="#120a0a" stroke-width="3.4" fill="none"/>
<g transform="translate(1220.5,360.4) rotate(28.5)"><path d="M-21.9,3.2 L0,36 L21.9,3.2Z" fill="url(#dg)" stroke="#120a0a" stroke-width="2.6" stroke-linejoin="round"/><path d="M-20.4,4.2 L0,34.5 L-12.1,9.7Z" fill="#8d7aa6" opacity="0.55"/><path d="M-6.1,10.8 L0,34.5 L1.1,10.8Z" fill="#a691bf" opacity="0.45"/><path d="M13.6,9.2 L0,34.5 L20.8,3.7Z" fill="#9f8ab8" opacity="0.4"/><ellipse cx="0" cy="0" rx="23" ry="10.8" fill="#f4e4f8" stroke="#120a0a" stroke-width="2.6"/></g>
<path d="M1226.1,350.9 L1219.7,361.7" stroke="#120a0a" stroke-width="3.4" fill="none"/>
<g transform="translate(1192.8,407.6) rotate(28.5)"><path d="M-21.3,3.5 L0,35 L21.3,3.5Z" fill="url(#dg)" stroke="#120a0a" stroke-width="2.6" stroke-linejoin="round"/><path d="M-19.8,4.5 L0,33.5 L-11.7,10Z" fill="#8d7aa6" opacity="0.55"/><path d="M-6,11.1 L0,33.5 L1.1,11.1Z" fill="#a691bf" opacity="0.45"/><path d="M13.2,9.5 L0,33.5 L20.3,4Z" fill="#9f8ab8" opacity="0.4"/><ellipse cx="0" cy="0" rx="22.5" ry="11.1" fill="#f4e4f8" stroke="#120a0a" stroke-width="2.6"/></g>
<path d="M1198.4,398.1 L1192,408.9" stroke="#120a0a" stroke-width="3.4" fill="none"/>
<g transform="translate(1166.6,452) rotate(28.5)"><path d="M-20.7,3.9 L0,34 L20.7,3.9Z" fill="url(#dg)" stroke="#120a0a" stroke-width="2.6" stroke-linejoin="round"/><path d="M-19.3,4.9 L0,32.5 L-11.4,10.3Z" fill="#8d7aa6" opacity="0.55"/><path d="M-5.8,11.5 L0,32.5 L1,11.5Z" fill="#a691bf" opacity="0.45"/><path d="M12.8,9.8 L0,32.5 L19.7,4.4Z" fill="#9f8ab8" opacity="0.4"/><ellipse cx="0" cy="0" rx="22" ry="11.5" fill="#f4e4f8" stroke="#120a0a" stroke-width="2.6"/></g>
<path d="M1172.2,442.5 L1165.8,453.3" stroke="#120a0a" stroke-width="3.4" fill="none"/>
<path d="M1320,190 L1382.1,155.2" stroke="#120a0a" stroke-width="6.8" stroke-linecap="butt" fill="none"/><path d="M1320,190 L1382.1,155.2" stroke="#5b66cf" stroke-width="4" stroke-linecap="butt" fill="none"/><path d="M1320.4,190.6 L1382.4,155.8" stroke="#8f9af0" stroke-width="1.6" fill="none"/><path d="M1385.1,160.6 L1389.5,151 L1379,149.7Z" fill="#5b66cf" stroke="#120a0a" stroke-width="1.6" stroke-linejoin="round"/><path d="M1382.4,155.7 L1388.2,151.7 L1384,158.6Z" fill="#8f9af0"/>
<path d="M1285,244.5 L1330.8,215.2" stroke="#120a0a" stroke-width="6.8" stroke-linecap="butt" fill="none"/><path d="M1285,244.5 L1330.8,215.2" stroke="#5b66cf" stroke-width="4" stroke-linecap="butt" fill="none"/><path d="M1285.4,245.1 L1331.2,215.8" stroke="#8f9af0" stroke-width="1.6" fill="none"/><path d="M1334.2,220.4 L1338,210.6 L1327.5,209.9Z" fill="#5b66cf" stroke="#120a0a" stroke-width="1.6" stroke-linejoin="round"/><path d="M1331.2,215.7 L1336.7,211.4 L1333,218.5Z" fill="#8f9af0"/>
<path d="M1254,297 L1277.6,256.4" stroke="#120a0a" stroke-width="6.8" stroke-linecap="butt" fill="none"/><path d="M1254,297 L1277.6,256.4" stroke="#5b66cf" stroke-width="4" stroke-linecap="butt" fill="none"/><path d="M1254.6,297.4 L1278.2,256.8" stroke="#8f9af0" stroke-width="1.6" fill="none"/><circle cx="1277.6" cy="256.4" r="4.6" fill="#5b66cf" stroke="#120a0a" stroke-width="1.5"/><circle cx="1278.4" cy="255.8" r="2.3" fill="#8f9af0"/>
<!-- panelE -->
<defs><linearGradient id="eg" x1="0" y1="0" x2="1" y2="0.3"><stop offset="0" stop-color="#e1f4e6"/><stop offset="0.55" stop-color="#d6eedc"/><stop offset="1" stop-color="#cde8d5"/></linearGradient></defs>
<text x="789.5" y="557.5" class="sa b" font-size="41.5" fill="#000">E</text>
<path d="M859.8,650 L859.8,597.3" stroke="#c30d23" stroke-width="3.6" fill="none"/><path d="M868.5,598.3 L859.8,583 L851.1,598.3Z" fill="#c30d23"/>
<text x="876" y="626" class="se it" font-size="51" fill="#d7000f">μ</text><text x="0" y="0" class="se" font-size="38.5" fill="#d7000f" transform="translate(904,638.3) scale(0.9,1)">0</text>
<text x="0" y="0" class="se b" font-size="49" fill="#d7000f" transform="translate(926,626.5) scale(0.87,1)">H</text>
<path d="M1083.6,640.5 L1083.6,588" stroke="#0d9647" stroke-width="3.2" fill="none"/><path d="M1092.1,589 L1083.6,573.5 L1075.1,589Z" fill="#0d9647"/>
<text x="1075.5" y="563.5" class="se it k" font-size="38">z</text>
<text x="0" y="0" class="se k" font-size="41" letter-spacing="2" transform="translate(1109.8,622) scale(1,1.025)">[001]</text>
<text x="1336" y="630" class="se" font-size="41.5" fill="#727171" stroke="#727171" stroke-width="0.5" text-anchor="middle" letter-spacing="1.2">transversal</text>
<text x="1340.5" y="673.5" class="se" font-size="41.5" fill="#727171" stroke="#727171" stroke-width="0.5" text-anchor="middle" letter-spacing="1">spiral</text>
<text x="742.3" y="746" class="se b k" font-size="49.5">Q</text>
<text x="1446.5" y="787.5" class="se b k" font-size="48.5">Q</text>
<text x="0" y="0" class="se k" font-size="41" letter-spacing="1.8" transform="translate(724.5,870.8) scale(1,1.025)">[100]</text>
<text x="0" y="0" class="se k" font-size="41" letter-spacing="1.5" transform="translate(1394.5,948.5) scale(1,1.025)">[010]</text>
<path d="M934.5,867 L880.4,895.2" stroke="#0d9647" stroke-width="3.2" fill="none"/><path d="M877.8,888.1 L868,901.7 L884.8,901.4Z" fill="#0d9647"/>
<path d="M986,879.4 L1054.2,909.1" stroke="#0d9647" stroke-width="3.2" fill="none"/><path d="M1050.3,915.6 L1067,914.7 L1056.2,901.8Z" fill="#0d9647"/>
<text x="862" y="931" class="se it k" font-size="36">x</text>
<text x="1080.5" y="930.5" class="se it k" font-size="36">y</text>
<path d="M804.6,767.6 L760.3,786.4" stroke="#120a0a" stroke-width="6.8" stroke-linecap="butt" fill="none"/><path d="M804.6,767.6 L760.3,786.4" stroke="#8a2020" stroke-width="3.8" stroke-linecap="butt" fill="none"/><path d="M804.3,767 L760.1,785.8" stroke="#a84444" stroke-width="1.5" fill="none"/><path d="M758.4,781.8 L752.5,789.7 L762.3,791Z" fill="#8a2020" stroke="#120a0a" stroke-width="1.7" stroke-linejoin="round"/><path d="M760.1,785.9 L753.9,789.1 L759.1,783.4Z" fill="#a84444"/>
<path d="M886.7,798.9 L842.2,819.5" stroke="#120a0a" stroke-width="6.8" stroke-linecap="butt" fill="none"/><path d="M886.7,798.9 L842.2,819.5" stroke="#8a2020" stroke-width="3.8" stroke-linecap="butt" fill="none"/><path d="M886.4,798.3 L841.9,818.9" stroke="#a84444" stroke-width="1.5" fill="none"/><path d="M840.1,815 L834.5,823.1 L844.3,824.1Z" fill="#8a2020" stroke="#120a0a" stroke-width="1.7" stroke-linejoin="round"/><path d="M842,819.1 L835.9,822.5 L840.9,816.6Z" fill="#a84444"/>
<path d="M1423.8,807 L1478,825.4" stroke="#120a0a" stroke-width="6.8" stroke-linecap="butt" fill="none"/><path d="M1423.8,807 L1478,825.4" stroke="#8a2020" stroke-width="3.8" stroke-linecap="butt" fill="none"/><path d="M1423.6,807.6 L1477.7,826" stroke="#a84444" stroke-width="1.5" fill="none"/><path d="M1476.3,830.1 L1486,828.1 L1479.6,820.6Z" fill="#8a2020" stroke="#120a0a" stroke-width="1.7" stroke-linejoin="round"/><path d="M1477.8,825.8 L1484.6,827.6 L1476.9,828.4Z" fill="#a84444"/>
<path d="M1360.4,859.2 L1417.1,880" stroke="#120a0a" stroke-width="6.8" stroke-linecap="butt" fill="none"/><path d="M1360.4,859.2 L1417.1,880" stroke="#8a2020" stroke-width="3.8" stroke-linecap="butt" fill="none"/><path d="M1360.2,859.8 L1416.9,880.6" stroke="#a84444" stroke-width="1.5" fill="none"/><path d="M1415.4,884.7 L1425.1,882.9 L1418.8,875.3Z" fill="#8a2020" stroke="#120a0a" stroke-width="1.7" stroke-linejoin="round"/><path d="M1416.9,880.4 L1423.7,882.4 L1416,883Z" fill="#a84444"/>
<path d="M1294.5,912.7 L1353.7,936.9" stroke="#120a0a" stroke-width="6.8" stroke-linecap="butt" fill="none"/><path d="M1294.5,912.7 L1353.7,936.9" stroke="#8a2020" stroke-width="3.8" stroke-linecap="butt" fill="none"/><path d="M1294.2,913.3 L1353.5,937.5" stroke="#a84444" stroke-width="1.5" fill="none"/><path d="M1351.8,941.5 L1361.6,940.1 L1355.6,932.3Z" fill="#8a2020" stroke="#120a0a" stroke-width="1.7" stroke-linejoin="round"/><path d="M1353.5,937.3 L1360.2,939.5 L1352.5,939.8Z" fill="#a84444"/>
<ellipse cx="0" cy="0" rx="13.7" ry="21.9" transform="translate(821.2,764.5) rotate(-13)" fill="url(#eg)" stroke="#120a0a" stroke-width="2.8"/>
<path d="M822,790 L815.2,741.8" stroke="#120a0a" stroke-width="6.3" stroke-linecap="round" fill="none"/><path d="M822,790 L815.2,741.8" stroke="#5b66cf" stroke-width="3.1" stroke-linecap="butt" fill="none"/><path d="M822.6,789.9 L815.8,741.8" stroke="#8f9af0" stroke-width="1.2" fill="none"/><path d="M820.2,741.1 L814.3,735.4 L810.3,742.5Z" fill="#5b66cf" stroke="#120a0a" stroke-width="1.8" stroke-linejoin="round"/><path d="M815.7,741.8 L814.5,736.9 L818.4,741.4Z" fill="#8f9af0"/>
<ellipse cx="0" cy="0" rx="13" ry="22.9" transform="translate(859,749.8) rotate(-26)" fill="url(#eg)" stroke="#120a0a" stroke-width="2.8"/>
<path d="M874,772.5 L842.6,733.4" stroke="#120a0a" stroke-width="6.3" stroke-linecap="round" fill="none"/><path d="M874,772.5 L842.6,733.4" stroke="#5b66cf" stroke-width="3.1" stroke-linecap="butt" fill="none"/><path d="M874.4,772.2 L843.1,733.1" stroke="#8f9af0" stroke-width="1.2" fill="none"/><path d="M845.6,731.1 L839.5,729.5 L839.7,735.7Z" fill="#5b66cf" stroke="#120a0a" stroke-width="1.8" stroke-linejoin="round"/><path d="M842.9,733.2 L840.4,730.7 L844.5,731.9Z" fill="#8f9af0"/>
<ellipse cx="0" cy="0" rx="14.9" ry="20" transform="translate(891.3,736.5) rotate(-16)" fill="url(#eg)" stroke="#120a0a" stroke-width="2.8"/>
<path d="M908.6,743.5 L870.4,732.1" stroke="#120a0a" stroke-width="6.3" stroke-linecap="round" fill="none"/><path d="M908.6,743.5 L870.4,732.1" stroke="#5b66cf" stroke-width="3.1" stroke-linecap="butt" fill="none"/><path d="M908.8,743 L870.6,731.6" stroke="#8f9af0" stroke-width="1.2" fill="none"/><circle cx="870.4" cy="732.1" r="3.4" fill="#17122e"/><circle cx="870.4" cy="732.1" r="1.1" fill="#4a53a8"/>
<ellipse cx="0" cy="0" rx="13.9" ry="19" transform="translate(924.5,723) rotate(-15)" fill="url(#eg)" stroke="#120a0a" stroke-width="2.8"/>
<path d="M936.2,714.8 L907.5,731.8" stroke="#120a0a" stroke-width="6.3" stroke-linecap="round" fill="none"/><path d="M936.2,714.8 L907.5,731.8" stroke="#5b66cf" stroke-width="3.1" stroke-linecap="butt" fill="none"/><path d="M935.9,714.3 L907.2,731.3" stroke="#8f9af0" stroke-width="1.2" fill="none"/><circle cx="907.5" cy="731.8" r="3.4" fill="#17122e"/><circle cx="907.5" cy="731.8" r="1.1" fill="#4a53a8"/>
<ellipse cx="0" cy="0" rx="14.1" ry="22.3" transform="translate(952.6,713) rotate(-14)" fill="url(#eg)" stroke="#120a0a" stroke-width="2.8"/>
<path d="M947.4,686.7 L952.2,731.2" stroke="#120a0a" stroke-width="6.3" stroke-linecap="round" fill="none"/><path d="M947.4,686.7 L952.2,731.2" stroke="#5b66cf" stroke-width="3.1" stroke-linecap="butt" fill="none"/><path d="M946.8,686.8 L951.6,731.3" stroke="#8f9af0" stroke-width="1.2" fill="none"/><path d="M948.4,731.6 L952.7,736.2 L955.9,730.8Z" fill="#5b66cf" stroke="#120a0a" stroke-width="1.8" stroke-linejoin="round"/><path d="M951.8,731.3 L952.5,734.7 L949.8,731.5Z" fill="#8f9af0"/>
<ellipse cx="0" cy="0" rx="12.2" ry="20.9" transform="translate(984.4,698.6) rotate(-26)" fill="url(#eg)" stroke="#120a0a" stroke-width="2.8"/>
<path d="M969.7,679.5 L995.7,715.4" stroke="#120a0a" stroke-width="6.3" stroke-linecap="round" fill="none"/><path d="M969.7,679.5 L995.7,715.4" stroke="#5b66cf" stroke-width="3.1" stroke-linecap="butt" fill="none"/><path d="M969.2,679.8 L995.2,715.8" stroke="#8f9af0" stroke-width="1.2" fill="none"/><path d="M992.6,717.6 L998.6,719.5 L998.7,713.3Z" fill="#5b66cf" stroke="#120a0a" stroke-width="1.8" stroke-linejoin="round"/><path d="M995.4,715.7 L997.7,718.3 L993.7,716.9Z" fill="#8f9af0"/>
<ellipse cx="0" cy="0" rx="12.1" ry="18.2" transform="translate(1014.6,684.8) rotate(-18)" fill="url(#eg)" stroke="#120a0a" stroke-width="2.8"/>
<path d="M994.8,678.9 L1029.3,690" stroke="#120a0a" stroke-width="6.3" stroke-linecap="round" fill="none"/><path d="M994.8,678.9 L1029.3,690" stroke="#5b66cf" stroke-width="3.1" stroke-linecap="butt" fill="none"/><path d="M994.6,679.4 L1029.1,690.5" stroke="#8f9af0" stroke-width="1.2" fill="none"/><circle cx="1029.3" cy="690" r="3.9" fill="#5b66cf" stroke="#120a0a" stroke-width="1.8"/><circle cx="1030.1" cy="689.4" r="1.9" fill="#8f9af0"/>
<ellipse cx="0" cy="0" rx="13.4" ry="17.8" transform="translate(1038.9,675.2) rotate(-8)" fill="url(#eg)" stroke="#120a0a" stroke-width="2.8"/>
<path d="M1029.3,690 L1048.4,664.2" stroke="#120a0a" stroke-width="6.3" stroke-linecap="round" fill="none"/><path d="M1029.3,690 L1048.4,664.2" stroke="#5b66cf" stroke-width="3.1" stroke-linecap="butt" fill="none"/><path d="M1029.7,690.3 L1048.8,664.5" stroke="#8f9af0" stroke-width="1.2" fill="none"/><circle cx="1048.4" cy="664.2" r="3.9" fill="#5b66cf" stroke="#120a0a" stroke-width="1.8"/><circle cx="1049.2" cy="663.6" r="1.9" fill="#8f9af0"/>
<ellipse cx="0" cy="0" rx="14.5" ry="23.5" transform="translate(902.8,796.7) rotate(-17)" fill="url(#eg)" stroke="#120a0a" stroke-width="2.8"/>
<path d="M902.8,821.6 L897,771.6" stroke="#120a0a" stroke-width="6.3" stroke-linecap="round" fill="none"/><path d="M902.8,821.6 L897,771.6" stroke="#5b66cf" stroke-width="3.1" stroke-linecap="butt" fill="none"/><path d="M903.4,821.5 L897.5,771.5" stroke="#8f9af0" stroke-width="1.2" fill="none"/><path d="M901.9,771 L896.2,765.1 L892,772.1Z" fill="#5b66cf" stroke="#120a0a" stroke-width="1.8" stroke-linejoin="round"/><path d="M897.5,771.5 L896.4,766.6 L900.1,771.2Z" fill="#8f9af0"/>
<ellipse cx="0" cy="0" rx="14" ry="23" transform="translate(938.8,779) rotate(-30)" fill="url(#eg)" stroke="#120a0a" stroke-width="2.8"/>
<path d="M954.9,801.8 L922.8,760.9" stroke="#120a0a" stroke-width="6.3" stroke-linecap="round" fill="none"/><path d="M954.9,801.8 L922.8,760.9" stroke="#5b66cf" stroke-width="3.1" stroke-linecap="butt" fill="none"/><path d="M955.3,801.5 L923.2,760.6" stroke="#8f9af0" stroke-width="1.2" fill="none"/><path d="M925.7,758.6 L919.7,757 L919.8,763.2Z" fill="#5b66cf" stroke="#120a0a" stroke-width="1.8" stroke-linejoin="round"/><path d="M923.1,760.7 L920.6,758.2 L924.7,759.4Z" fill="#8f9af0"/>
<ellipse cx="0" cy="0" rx="15" ry="20" transform="translate(969.8,762) rotate(-20)" fill="url(#eg)" stroke="#120a0a" stroke-width="2.8"/>
<path d="M990,771.2 L948.5,759.3" stroke="#120a0a" stroke-width="6.3" stroke-linecap="round" fill="none"/><path d="M990,771.2 L948.5,759.3" stroke="#5b66cf" stroke-width="3.1" stroke-linecap="butt" fill="none"/><path d="M990.2,770.7 L948.7,758.8" stroke="#8f9af0" stroke-width="1.2" fill="none"/><circle cx="948.5" cy="759.3" r="3.4" fill="#17122e"/><circle cx="948.5" cy="759.3" r="1.1" fill="#4a53a8"/>
<ellipse cx="0" cy="0" rx="15" ry="19.8" transform="translate(1003.5,748.1) rotate(-15)" fill="url(#eg)" stroke="#120a0a" stroke-width="2.8"/>
<path d="M1017,740.5 L985,756" stroke="#120a0a" stroke-width="6.3" stroke-linecap="round" fill="none"/><path d="M1017,740.5 L985,756" stroke="#5b66cf" stroke-width="3.1" stroke-linecap="butt" fill="none"/><path d="M1016.8,740 L984.8,755.5" stroke="#8f9af0" stroke-width="1.2" fill="none"/><circle cx="985" cy="756" r="3.4" fill="#17122e"/><circle cx="985" cy="756" r="1.1" fill="#4a53a8"/>
<ellipse cx="0" cy="0" rx="14" ry="20.5" transform="translate(1031.5,734) rotate(-12)" fill="url(#eg)" stroke="#120a0a" stroke-width="2.8"/>
<path d="M1027.8,709.8 L1030.5,756.9" stroke="#120a0a" stroke-width="6.3" stroke-linecap="round" fill="none"/><path d="M1027.8,709.8 L1030.5,756.9" stroke="#5b66cf" stroke-width="3.1" stroke-linecap="butt" fill="none"/><path d="M1027.2,709.8 L1030,756.9" stroke="#8f9af0" stroke-width="1.2" fill="none"/><path d="M1026.8,757.1 L1030.8,761.9 L1034.3,756.7Z" fill="#5b66cf" stroke="#120a0a" stroke-width="1.8" stroke-linejoin="round"/><path d="M1030.1,756.9 L1030.7,760.4 L1028.1,757Z" fill="#8f9af0"/>
<ellipse cx="0" cy="0" rx="13.5" ry="21.3" transform="translate(1063.1,720) rotate(-30)" fill="url(#eg)" stroke="#120a0a" stroke-width="2.8"/>
<path d="M1047.7,701.7 L1074.8,737.3" stroke="#120a0a" stroke-width="6.3" stroke-linecap="round" fill="none"/><path d="M1047.7,701.7 L1074.8,737.3" stroke="#5b66cf" stroke-width="3.1" stroke-linecap="butt" fill="none"/><path d="M1047.3,702 L1074.3,737.7" stroke="#8f9af0" stroke-width="1.2" fill="none"/><path d="M1071.8,739.6 L1077.8,741.3 L1077.8,735.1Z" fill="#5b66cf" stroke="#120a0a" stroke-width="1.8" stroke-linejoin="round"/><path d="M1074.5,737.5 L1076.9,740.1 L1072.9,738.8Z" fill="#8f9af0"/>
<ellipse cx="0" cy="0" rx="13" ry="18.9" transform="translate(1091.7,706.8) rotate(-17)" fill="url(#eg)" stroke="#120a0a" stroke-width="2.8"/>
<path d="M1071.2,700.2 L1109.4,712" stroke="#120a0a" stroke-width="6.3" stroke-linecap="round" fill="none"/><path d="M1071.2,700.2 L1109.4,712" stroke="#5b66cf" stroke-width="3.1" stroke-linecap="butt" fill="none"/><path d="M1071,700.7 L1109.2,712.5" stroke="#8f9af0" stroke-width="1.2" fill="none"/><circle cx="1109.4" cy="712" r="3.9" fill="#5b66cf" stroke="#120a0a" stroke-width="1.8"/><circle cx="1110.2" cy="711.4" r="1.9" fill="#8f9af0"/>
<ellipse cx="0" cy="0" rx="13.5" ry="18.5" transform="translate(1116,695.8) rotate(-8)" fill="url(#eg)" stroke="#120a0a" stroke-width="2.8"/>
<path d="M1109.4,712 L1127,684.8" stroke="#120a0a" stroke-width="6.3" stroke-linecap="round" fill="none"/><path d="M1109.4,712 L1127,684.8" stroke="#5b66cf" stroke-width="3.1" stroke-linecap="butt" fill="none"/><path d="M1109.9,712.3 L1127.5,685.1" stroke="#8f9af0" stroke-width="1.2" fill="none"/><circle cx="1127" cy="684.8" r="3.9" fill="#5b66cf" stroke="#120a0a" stroke-width="1.8"/><circle cx="1127.8" cy="684.2" r="1.9" fill="#8f9af0"/>
<ellipse cx="0" cy="0" rx="10.8" ry="22" transform="translate(1137.2,726.3) rotate(25)" fill="url(#eg)" stroke="#120a0a" stroke-width="2.8"/>
<path d="M1127.6,749 L1148.9,706.5" stroke="#120a0a" stroke-width="6.3" stroke-linecap="round" fill="none"/><path d="M1127.6,749 L1148.9,706.5" stroke="#5b66cf" stroke-width="3.1" stroke-linecap="butt" fill="none"/><path d="M1128.1,749.2 L1149.4,706.7" stroke="#8f9af0" stroke-width="1.2" fill="none"/><path d="M1152.2,708.1 L1151.1,702 L1145.5,704.8Z" fill="#5b66cf" stroke="#120a0a" stroke-width="1.8" stroke-linejoin="round"/><path d="M1149.2,706.6 L1150.4,703.3 L1151,707.5Z" fill="#8f9af0"/>
<ellipse cx="0" cy="0" rx="14.1" ry="20.3" transform="translate(1167.3,734.3) rotate(16)" fill="url(#eg)" stroke="#120a0a" stroke-width="2.8"/>
<path d="M1151.1,741.7 L1185.6,727" stroke="#120a0a" stroke-width="6.3" stroke-linecap="round" fill="none"/><path d="M1151.1,741.7 L1185.6,727" stroke="#5b66cf" stroke-width="3.1" stroke-linecap="butt" fill="none"/><path d="M1151.3,742.2 L1185.8,727.5" stroke="#8f9af0" stroke-width="1.2" fill="none"/><circle cx="1185.6" cy="727" r="3.4" fill="#17122e"/><circle cx="1185.6" cy="727" r="1.1" fill="#4a53a8"/>
<ellipse cx="0" cy="0" rx="12.8" ry="21" transform="translate(1205.5,746.1) rotate(15)" fill="url(#eg)" stroke="#120a0a" stroke-width="2.8"/>
<path d="M1193.7,735.1 L1219.4,757.1" stroke="#120a0a" stroke-width="6.3" stroke-linecap="round" fill="none"/><path d="M1193.7,735.1 L1219.4,757.1" stroke="#5b66cf" stroke-width="3.1" stroke-linecap="butt" fill="none"/><path d="M1193.3,735.5 L1219,757.5" stroke="#8f9af0" stroke-width="1.2" fill="none"/><circle cx="1219.4" cy="757.1" r="3.4" fill="#17122e"/><circle cx="1219.4" cy="757.1" r="1.1" fill="#4a53a8"/>
<ellipse cx="0" cy="0" rx="12.4" ry="22.8" transform="translate(1244.4,760) rotate(9)" fill="url(#eg)" stroke="#120a0a" stroke-width="2.8"/>
<path d="M1246.6,731.4 L1246,780.7" stroke="#120a0a" stroke-width="6.3" stroke-linecap="round" fill="none"/><path d="M1246.6,731.4 L1246,780.7" stroke="#5b66cf" stroke-width="3.1" stroke-linecap="butt" fill="none"/><path d="M1246,731.4 L1245.4,780.7" stroke="#8f9af0" stroke-width="1.2" fill="none"/><path d="M1242.2,780.7 L1245.9,785.7 L1249.7,780.7Z" fill="#5b66cf" stroke="#120a0a" stroke-width="1.8" stroke-linejoin="round"/><path d="M1245.6,780.7 L1245.9,784.2 L1243.6,780.7Z" fill="#8f9af0"/>
<ellipse cx="0" cy="0" rx="11" ry="22.6" transform="translate(1278.9,769.6) rotate(22)" fill="url(#eg)" stroke="#120a0a" stroke-width="2.8"/>
<path d="M1295,746.8 L1270.5,787.5" stroke="#120a0a" stroke-width="6.3" stroke-linecap="round" fill="none"/><path d="M1295,746.8 L1270.5,787.5" stroke="#5b66cf" stroke-width="3.1" stroke-linecap="butt" fill="none"/><path d="M1294.5,746.5 L1270,787.2" stroke="#8f9af0" stroke-width="1.2" fill="none"/><path d="M1266.2,785 L1267.1,793.1 L1274.7,790.1Z" fill="#5b66cf" stroke="#120a0a" stroke-width="1.8" stroke-linejoin="round"/><path d="M1270,787.3 L1267.9,791.8 L1267.7,785.9Z" fill="#8f9af0"/>
<ellipse cx="0" cy="0" rx="12.9" ry="21.5" transform="translate(1320.6,780.9) rotate(20)" fill="url(#eg)" stroke="#120a0a" stroke-width="2.8"/>
<path d="M1336.8,772.2 L1306.9,793.3" stroke="#120a0a" stroke-width="6.3" stroke-linecap="round" fill="none"/><path d="M1336.8,772.2 L1306.9,793.3" stroke="#5b66cf" stroke-width="3.1" stroke-linecap="butt" fill="none"/><path d="M1336.5,771.7 L1306.6,792.8" stroke="#8f9af0" stroke-width="1.2" fill="none"/><circle cx="1306.9" cy="793.3" r="3.9" fill="#5b66cf" stroke="#120a0a" stroke-width="1.8"/><circle cx="1307.7" cy="792.7" r="1.9" fill="#8f9af0"/>
<ellipse cx="0" cy="0" rx="12.5" ry="22.9" transform="translate(1359.2,792.1) rotate(12)" fill="url(#eg)" stroke="#120a0a" stroke-width="2.8"/>
<path d="M1371.6,804.5 L1350.4,785.8" stroke="#120a0a" stroke-width="6.3" stroke-linecap="round" fill="none"/><path d="M1371.6,804.5 L1350.4,785.8" stroke="#5b66cf" stroke-width="3.1" stroke-linecap="butt" fill="none"/><path d="M1372,804.1 L1350.8,785.4" stroke="#8f9af0" stroke-width="1.2" fill="none"/><circle cx="1350.4" cy="785.8" r="3.9" fill="#5b66cf" stroke="#120a0a" stroke-width="1.8"/><circle cx="1351.2" cy="785.2" r="1.9" fill="#8f9af0"/>
<ellipse cx="0" cy="0" rx="12" ry="27" transform="translate(1402.3,805.7) rotate(9)" fill="url(#eg)" stroke="#120a0a" stroke-width="2.8"/>
<path d="M1405.2,833.1 L1408,781.1" stroke="#120a0a" stroke-width="6.3" stroke-linecap="round" fill="none"/><path d="M1405.2,833.1 L1408,781.1" stroke="#5b66cf" stroke-width="3.1" stroke-linecap="butt" fill="none"/><path d="M1405.8,833.1 L1408.6,781.1" stroke="#8f9af0" stroke-width="1.2" fill="none"/><path d="M1413,781.4 L1408.4,774.6 L1403.1,780.8Z" fill="#5b66cf" stroke="#120a0a" stroke-width="1.8" stroke-linejoin="round"/><path d="M1408.5,781.1 L1408.3,776.1 L1411.2,781.3Z" fill="#8f9af0"/>
<ellipse cx="0" cy="0" rx="14.4" ry="23.2" transform="translate(1061.3,766) rotate(18)" fill="url(#eg)" stroke="#120a0a" stroke-width="2.8"/>
<path d="M1051.6,788.6 L1076.3,741.3" stroke="#120a0a" stroke-width="6.3" stroke-linecap="round" fill="none"/><path d="M1051.6,788.6 L1076.3,741.3" stroke="#5b66cf" stroke-width="3.1" stroke-linecap="butt" fill="none"/><path d="M1052.1,788.9 L1076.8,741.6" stroke="#8f9af0" stroke-width="1.2" fill="none"/>
<ellipse cx="0" cy="0" rx="15.5" ry="20.9" transform="translate(1094.3,772.8) rotate(18)" fill="url(#eg)" stroke="#120a0a" stroke-width="2.8"/>
<path d="M1074.4,781.6 L1114.5,764.4" stroke="#120a0a" stroke-width="6.3" stroke-linecap="round" fill="none"/><path d="M1074.4,781.6 L1114.5,764.4" stroke="#5b66cf" stroke-width="3.1" stroke-linecap="butt" fill="none"/><path d="M1074.6,782.1 L1114.7,764.9" stroke="#8f9af0" stroke-width="1.2" fill="none"/><circle cx="1114.5" cy="764.4" r="3.4" fill="#17122e"/><circle cx="1114.5" cy="764.4" r="1.1" fill="#4a53a8"/>
<ellipse cx="0" cy="0" rx="15" ry="21.5" transform="translate(1132,786.6) rotate(15)" fill="url(#eg)" stroke="#120a0a" stroke-width="2.8"/>
<path d="M1119.2,776.3 L1149.3,798.7" stroke="#120a0a" stroke-width="6.3" stroke-linecap="round" fill="none"/><path d="M1119.2,776.3 L1149.3,798.7" stroke="#5b66cf" stroke-width="3.1" stroke-linecap="butt" fill="none"/><path d="M1118.9,776.7 L1149,799.1" stroke="#8f9af0" stroke-width="1.2" fill="none"/><circle cx="1149.3" cy="798.7" r="3.4" fill="#17122e"/><circle cx="1149.3" cy="798.7" r="1.1" fill="#4a53a8"/>
<ellipse cx="0" cy="0" rx="14.6" ry="25" transform="translate(1173,801) rotate(8)" fill="url(#eg)" stroke="#120a0a" stroke-width="2.8"/>
<path d="M1173.9,772.5 L1175.1,824.4" stroke="#120a0a" stroke-width="6.3" stroke-linecap="round" fill="none"/><path d="M1173.9,772.5 L1175.1,824.4" stroke="#5b66cf" stroke-width="3.1" stroke-linecap="butt" fill="none"/><path d="M1173.3,772.5 L1174.5,824.4" stroke="#8f9af0" stroke-width="1.2" fill="none"/><path d="M1171.3,824.5 L1175.2,829.4 L1178.8,824.3Z" fill="#5b66cf" stroke="#120a0a" stroke-width="1.8" stroke-linejoin="round"/><path d="M1174.7,824.4 L1175.2,827.9 L1172.7,824.5Z" fill="#8f9af0"/>
<ellipse cx="0" cy="0" rx="13" ry="25" transform="translate(1210.5,813) rotate(22)" fill="url(#eg)" stroke="#120a0a" stroke-width="2.8"/>
<path d="M1227.4,790 L1197.1,834.6" stroke="#120a0a" stroke-width="6.3" stroke-linecap="round" fill="none"/><path d="M1227.4,790 L1197.1,834.6" stroke="#5b66cf" stroke-width="3.1" stroke-linecap="butt" fill="none"/><path d="M1226.9,789.7 L1196.6,834.3" stroke="#8f9af0" stroke-width="1.2" fill="none"/><path d="M1192.9,831.8 L1193.4,840 L1201.2,837.4Z" fill="#5b66cf" stroke="#120a0a" stroke-width="1.8" stroke-linejoin="round"/><path d="M1196.6,834.3 L1194.2,838.8 L1194.4,832.8Z" fill="#8f9af0"/>
<ellipse cx="0" cy="0" rx="13.1" ry="24.4" transform="translate(1250.7,828.9) rotate(19)" fill="url(#eg)" stroke="#120a0a" stroke-width="2.8"/>
<path d="M1272,817.2 L1236,841.4" stroke="#120a0a" stroke-width="6.3" stroke-linecap="round" fill="none"/><path d="M1272,817.2 L1236,841.4" stroke="#5b66cf" stroke-width="3.1" stroke-linecap="butt" fill="none"/><path d="M1271.7,816.7 L1235.7,840.9" stroke="#8f9af0" stroke-width="1.2" fill="none"/><circle cx="1236" cy="841.4" r="3.9" fill="#5b66cf" stroke="#120a0a" stroke-width="1.8"/><circle cx="1236.8" cy="840.8" r="1.9" fill="#8f9af0"/>
<ellipse cx="0" cy="0" rx="13.1" ry="24.5" transform="translate(1291.8,840.7) rotate(16)" fill="url(#eg)" stroke="#120a0a" stroke-width="2.8"/>
<path d="M1309.5,851.7 L1283,835.5" stroke="#120a0a" stroke-width="6.3" stroke-linecap="round" fill="none"/><path d="M1309.5,851.7 L1283,835.5" stroke="#5b66cf" stroke-width="3.1" stroke-linecap="butt" fill="none"/><path d="M1309.8,851.2 L1283.3,835" stroke="#8f9af0" stroke-width="1.2" fill="none"/><circle cx="1283" cy="835.5" r="3.9" fill="#5b66cf" stroke="#120a0a" stroke-width="1.8"/><circle cx="1283.8" cy="834.9" r="1.9" fill="#8f9af0"/>
<ellipse cx="0" cy="0" rx="13" ry="28" transform="translate(1338.8,856.8) rotate(9)" fill="url(#eg)" stroke="#120a0a" stroke-width="2.8"/>
<path d="M1340.5,886.6 L1342.7,832.2" stroke="#120a0a" stroke-width="6.3" stroke-linecap="round" fill="none"/><path d="M1340.5,886.6 L1342.7,832.2" stroke="#5b66cf" stroke-width="3.1" stroke-linecap="butt" fill="none"/><path d="M1341.1,886.6 L1343.3,832.2" stroke="#8f9af0" stroke-width="1.2" fill="none"/><path d="M1347.7,832.4 L1343,825.7 L1337.7,832Z" fill="#5b66cf" stroke="#120a0a" stroke-width="1.8" stroke-linejoin="round"/><path d="M1343.2,832.2 L1342.9,827.2 L1345.9,832.3Z" fill="#8f9af0"/>
<ellipse cx="0" cy="0" rx="15.9" ry="23.5" transform="translate(986.3,802.4) rotate(25)" fill="url(#eg)" stroke="#120a0a" stroke-width="2.8"/>
<path d="M975.2,829.2 L1000.6,778.5" stroke="#120a0a" stroke-width="6.3" stroke-linecap="round" fill="none"/><path d="M975.2,829.2 L1000.6,778.5" stroke="#5b66cf" stroke-width="3.1" stroke-linecap="butt" fill="none"/><path d="M975.7,829.4 L1001.1,778.7" stroke="#8f9af0" stroke-width="1.2" fill="none"/><path d="M1003.9,780.1 L1002.8,774 L997.2,776.8Z" fill="#5b66cf" stroke="#120a0a" stroke-width="1.8" stroke-linejoin="round"/><path d="M1000.9,778.6 L1002.1,775.3 L1002.7,779.5Z" fill="#8f9af0"/>
<ellipse cx="0" cy="0" rx="16.4" ry="23" transform="translate(1018.3,813.2) rotate(20)" fill="url(#eg)" stroke="#120a0a" stroke-width="2.8"/>
<path d="M997.7,823.4 L1041.8,802.1" stroke="#120a0a" stroke-width="6.3" stroke-linecap="round" fill="none"/><path d="M997.7,823.4 L1041.8,802.1" stroke="#5b66cf" stroke-width="3.1" stroke-linecap="butt" fill="none"/><path d="M997.9,823.9 L1042,802.6" stroke="#8f9af0" stroke-width="1.2" fill="none"/><circle cx="1041.8" cy="802.1" r="3.4" fill="#17122e"/><circle cx="1041.8" cy="802.1" r="1.1" fill="#4a53a8"/>
<ellipse cx="0" cy="0" rx="16.5" ry="23.5" transform="translate(1057.9,828.6) rotate(15)" fill="url(#eg)" stroke="#120a0a" stroke-width="2.8"/>
<path d="M1042.5,818.3 L1077.8,841.8" stroke="#120a0a" stroke-width="6.3" stroke-linecap="round" fill="none"/><path d="M1042.5,818.3 L1077.8,841.8" stroke="#5b66cf" stroke-width="3.1" stroke-linecap="butt" fill="none"/><path d="M1042.2,818.8 L1077.5,842.3" stroke="#8f9af0" stroke-width="1.2" fill="none"/><circle cx="1077.8" cy="841.8" r="3.4" fill="#17122e"/><circle cx="1077.8" cy="841.8" r="1.1" fill="#4a53a8"/>
<ellipse cx="0" cy="0" rx="16.8" ry="25.5" transform="translate(1099.8,845.5) rotate(9)" fill="url(#eg)" stroke="#120a0a" stroke-width="2.8"/>
<path d="M1099.8,814.6 L1103.2,870.6" stroke="#120a0a" stroke-width="6.3" stroke-linecap="round" fill="none"/><path d="M1099.8,814.6 L1103.2,870.6" stroke="#5b66cf" stroke-width="3.1" stroke-linecap="butt" fill="none"/><path d="M1099.2,814.6 L1102.6,870.6" stroke="#8f9af0" stroke-width="1.2" fill="none"/><path d="M1099.5,870.8 L1103.5,875.6 L1106.9,870.4Z" fill="#5b66cf" stroke="#120a0a" stroke-width="1.8" stroke-linejoin="round"/><path d="M1102.8,870.6 L1103.4,874.1 L1100.8,870.8Z" fill="#8f9af0"/>
<ellipse cx="0" cy="0" rx="14.5" ry="25" transform="translate(1137.8,858.8) rotate(25)" fill="url(#eg)" stroke="#120a0a" stroke-width="2.8"/>
<path d="M1155.8,833.5 L1124.4,882.7" stroke="#120a0a" stroke-width="6.3" stroke-linecap="round" fill="none"/><path d="M1155.8,833.5 L1124.4,882.7" stroke="#5b66cf" stroke-width="3.1" stroke-linecap="butt" fill="none"/><path d="M1155.3,833.2 L1123.9,882.4" stroke="#8f9af0" stroke-width="1.2" fill="none"/><path d="M1120.2,880 L1120.9,888.2 L1128.6,885.4Z" fill="#5b66cf" stroke="#120a0a" stroke-width="1.8" stroke-linejoin="round"/><path d="M1124,882.5 L1121.7,886.9 L1121.7,881Z" fill="#8f9af0"/>
<ellipse cx="0" cy="0" rx="15.4" ry="25" transform="translate(1180.2,876.7) rotate(21)" fill="url(#eg)" stroke="#120a0a" stroke-width="2.8"/>
<path d="M1203.7,863.4 L1162.6,891.3" stroke="#120a0a" stroke-width="6.3" stroke-linecap="round" fill="none"/><path d="M1203.7,863.4 L1162.6,891.3" stroke="#5b66cf" stroke-width="3.1" stroke-linecap="butt" fill="none"/><path d="M1203.4,862.9 L1162.3,890.8" stroke="#8f9af0" stroke-width="1.2" fill="none"/><circle cx="1162.6" cy="891.3" r="3.9" fill="#5b66cf" stroke="#120a0a" stroke-width="1.8"/><circle cx="1163.4" cy="890.7" r="1.9" fill="#8f9af0"/>
<ellipse cx="0" cy="0" rx="15" ry="25" transform="translate(1222.8,891.3) rotate(12)" fill="url(#eg)" stroke="#120a0a" stroke-width="2.8"/>
<path d="M1241.9,901.6 L1211.8,886.2" stroke="#120a0a" stroke-width="6.3" stroke-linecap="round" fill="none"/><path d="M1241.9,901.6 L1211.8,886.2" stroke="#5b66cf" stroke-width="3.1" stroke-linecap="butt" fill="none"/><path d="M1242.2,901.1 L1212.1,885.7" stroke="#8f9af0" stroke-width="1.2" fill="none"/><circle cx="1211.8" cy="886.2" r="3.9" fill="#5b66cf" stroke="#120a0a" stroke-width="1.8"/><circle cx="1212.6" cy="885.6" r="1.9" fill="#8f9af0"/>
<ellipse cx="0" cy="0" rx="13" ry="29" transform="translate(1271.3,909) rotate(9)" fill="url(#eg)" stroke="#120a0a" stroke-width="2.8"/>
<path d="M1273.3,941.4 L1275.5,883.2" stroke="#120a0a" stroke-width="6.3" stroke-linecap="round" fill="none"/><path d="M1273.3,941.4 L1275.5,883.2" stroke="#5b66cf" stroke-width="3.1" stroke-linecap="butt" fill="none"/><path d="M1273.9,941.4 L1276.1,883.2" stroke="#8f9af0" stroke-width="1.2" fill="none"/><path d="M1280.5,883.4 L1275.8,876.7 L1270.6,883Z" fill="#5b66cf" stroke="#120a0a" stroke-width="1.8" stroke-linejoin="round"/><path d="M1276,883.2 L1275.7,878.2 L1278.7,883.3Z" fill="#8f9af0"/>
</svg>
</body>
</html>
